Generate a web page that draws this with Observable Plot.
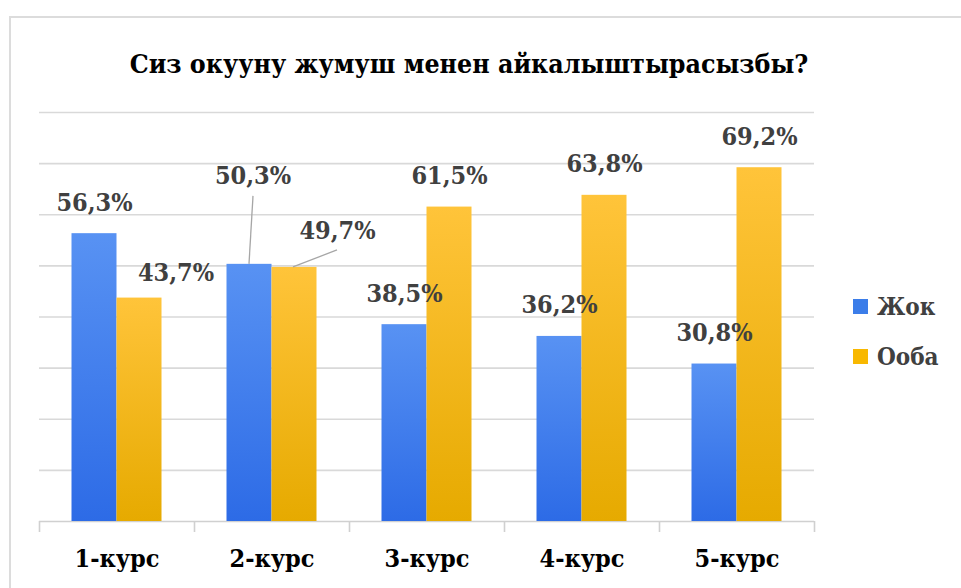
<!DOCTYPE html>
<html>
<head>
<meta charset="utf-8">
<script src="https://cdn.jsdelivr.net/npm/d3@7"></script>
<script src="https://cdn.jsdelivr.net/npm/@observablehq/plot@0.6"></script>
<style>
  html, body { margin: 0; padding: 0; background: #fff; }
  body { width: 961px; height: 588px; position: relative; overflow: hidden; }
  #frame { position: absolute; left: 9px; top: 16px; width: 1000px; height: 620px; border: 2px solid #dcdcdc; box-sizing: border-box; }
  #title { position: absolute; left: 0; top: 48px; width: 938px; text-align: center; font: 700 26.5px "DejaVu Serif Condensed", "DejaVu Serif", serif; line-height: 32px; color: #000; }
  #chart { position: absolute; left: 0; top: 100px; }
  #legend { position: absolute; left: 853px; top: 281px; font: 700 24px "DejaVu Serif Condensed", "DejaVu Serif", serif; color: #404040; }
  .item { display: flex; align-items: center; height: 50px; }
  .sw { width: 15px; height: 15px; margin-right: 9px; }
</style>
</head>
<body>
<div id="frame"></div>
<div id="title">Сиз окууну жумуш менен айкалыштырасызбы?</div>
<div id="chart"></div>
<div id="legend"></div>
<script>
const courses = ["1-курс", "2-курс", "3-курс", "4-курс", "5-курс"];
const seriesNames = ["Жок", "Ооба"];
const jok  = [56.3, 50.3, 38.5, 36.2, 30.8];
const ooba = [43.7, 49.7, 61.5, 63.8, 69.2];
const yTicks = [10, 20, 30, 40, 50, 60, 70, 80];
const colors = {"Жок": "#3b7de9", "Ооба": "#f8b800"};

const rows = courses.flatMap((c, i) => [
  {course: c, series: "Жок", value: jok[i], i},
  {course: c, series: "Ооба", value: ooba[i], i}
]);
const fmt = v => v.toFixed(1).replace(".", ",") + "%";
const isJ = d => d.series === "Жок";

const serif = "'DejaVu Serif Condensed', 'DejaVu Serif', serif";
const labelFont = {fontFamily: serif, fontWeight: 700, fontSize: 25, fill: "#404040"};

const leaders = (index, scales) => {
  const x = scales.x, y = scales.y;
  const bw = typeof x.bandwidth === "function" ? x.bandwidth() : x.bandwidth;
  const c = x(courses[1]) + bw / 2;
  const g = d3.create("svg:g").attr("stroke", "#a6a6a6").attr("stroke-width", 1.3);
  g.append("line").attr("x1", c - 22.5).attr("y1", y(jok[1])).attr("x2", c - 18.5).attr("y2", y(jok[1]) - 68);
  g.append("line").attr("x1", c + 21.5).attr("y1", y(ooba[1])).attr("x2", c + 65.5).attr("y2", y(ooba[1]) - 17);
  return g.node();
};

const chart = Plot.plot({
  width: 961,
  height: 488,
  marginTop: 12,
  marginBottom: 67,
  marginLeft: 39,
  marginRight: 147,
  x: {domain: courses, padding: 0, axis: null, label: null},
  y: {domain: [0, 80], axis: null, label: null},
  marks: [
    Plot.gridY(yTicks, {stroke: "#d9d9d9", strokeOpacity: 1, strokeWidth: 1.6}),
    Plot.ruleY([0], {stroke: "#d0d0d0", strokeWidth: 1.6}),
    Plot.axisX({tickSize: 11, dx: -77.5, tickFormat: () => "", label: null, stroke: "#d0d0d0", strokeWidth: 1.6}),
    Plot.axisX([courses[courses.length - 1]], {tickSize: 11, dx: 77.5, tickFormat: () => "", label: null, stroke: "#d0d0d0", strokeWidth: 1.6}),
    Plot.axisX({tickSize: 0, tickPadding: 28, label: null, fontSize: 25, fontWeight: 700, fontFamily: serif, fill: "#000"}),
    Plot.barY(rows.filter(isJ), {x: "course", y: "value", fill: "url(#gBlue)", insetLeft: 32.5, insetRight: 77.5}),
    Plot.barY(rows.filter(d => !isJ(d)), {x: "course", y: "value", fill: "url(#gYellow)", insetLeft: 77.5, insetRight: 32.5}),
    leaders,
    Plot.text(rows.filter(d => isJ(d) && d.i !== 1), {x: "course", y: "value", text: d => fmt(d.value), dx: -22.5, dy: -31, ...labelFont}),
    Plot.text(rows.filter(d => !isJ(d) && d.i > 1), {x: "course", y: "value", text: d => fmt(d.value), dx: 22.5, dy: -31, ...labelFont}),
    Plot.text(rows.filter(d => !isJ(d) && d.i === 0), {x: "course", y: "value", text: d => fmt(d.value), dx: 59, dy: -25, ...labelFont}),
    Plot.text(rows.filter(d => isJ(d) && d.i === 1), {x: "course", y: "value", text: d => fmt(d.value), dx: -19, dy: -88, ...labelFont}),
    Plot.text(rows.filter(d => !isJ(d) && d.i === 1), {x: "course", y: "value", text: d => fmt(d.value), dx: 65.5, dy: -36, ...labelFont})
  ]
});

const defs = d3.select(chart).insert("defs", ":first-child");
const grad = (id, top, bottom) => {
  const g = defs.append("linearGradient").attr("id", id).attr("x1", 0).attr("y1", 0).attr("x2", 0).attr("y2", 1);
  g.append("stop").attr("offset", "0%").attr("stop-color", top);
  g.append("stop").attr("offset", "100%").attr("stop-color", bottom);
};
grad("gBlue", "#5892f3", "#2d6be6");
grad("gYellow", "#ffc43a", "#e6aa00");

document.getElementById("chart").append(chart);

const legend = document.getElementById("legend");
for (const s of seriesNames) {
  const item = document.createElement("div");
  item.className = "item";
  const sw = document.createElement("span");
  sw.className = "sw";
  sw.style.background = colors[s];
  const t = document.createElement("span");
  t.textContent = s;
  item.append(sw, t);
  legend.append(item);
}
</script>
</body>
</html>
